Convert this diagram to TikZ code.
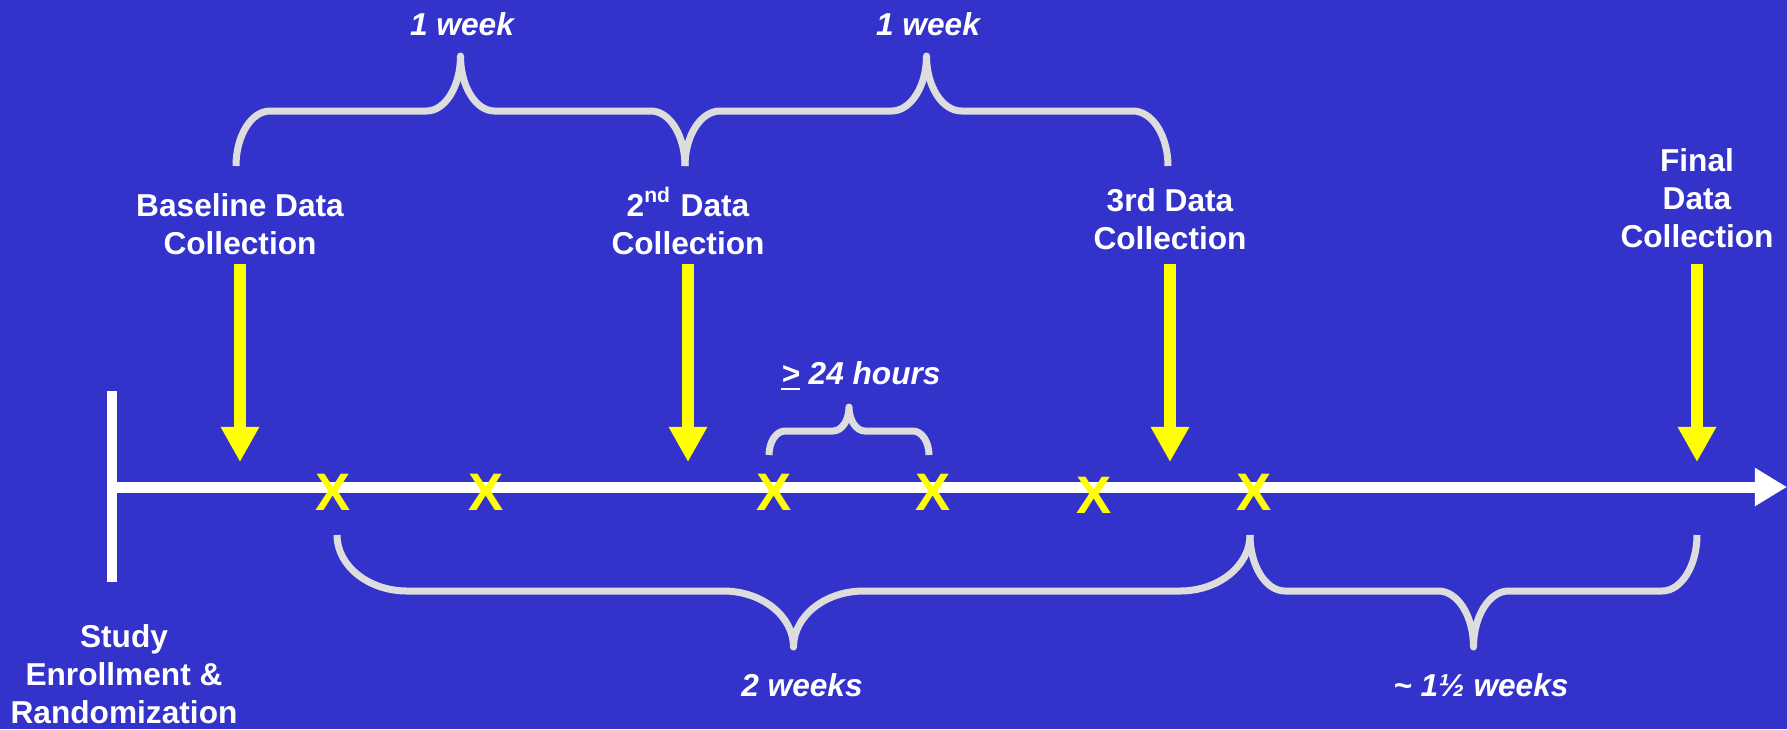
\documentclass[tikz,border=0pt]{standalone}
\usepackage{fontspec}
\setmainfont{Liberation Sans}
\usetikzlibrary{arrows.meta}
\definecolor{slideblue}{RGB}{51,51,204}
\definecolor{bracegray}{RGB}{221,221,221}
\definecolor{markyellow}{RGB}{255,255,0}

% curly span brace: x of both ends, y of the ends, rise, curve width
\newcommand{\spanbrace}[5]{%
  \pgfmathsetmacro{\bmid}{(#1+#2)/2}
  \draw[bracestroke] (#1,#3)
    .. controls (#1,{#3+0.55*(#4)}) and ({#1+0.45*#5},{#3+(#4)}) .. ({#1+#5},{#3+(#4)})
    -- ({\bmid-#5},{#3+(#4)})
    .. controls ({\bmid-0.45*#5},{#3+(#4)}) and (\bmid,{#3+1.45*(#4)}) .. (\bmid,{#3+2*(#4)})
    .. controls (\bmid,{#3+1.45*(#4)}) and ({\bmid+0.45*#5},{#3+(#4)}) .. ({\bmid+#5},{#3+(#4)})
    -- ({#2-#5},{#3+(#4)})
    .. controls ({#2-0.45*#5},{#3+(#4)}) and (#2,{#3+0.55*(#4)}) .. (#2,#3);
}

\begin{document}
\begin{tikzpicture}[
        x=0.01cm, y=-0.01cm,
        font=\fontsize{9}{10.8}\selectfont\bfseries,
        lbl/.style={text=white, align=center, inner sep=0pt, anchor=base},
        spanlbl/.style={text=white, font=\fontsize{9}{10.8}\selectfont\bfseries\itshape, inner sep=0pt, anchor=base},
        xmark/.style={text=markyellow, font=\fontsize{15}{18}\selectfont\bfseries, inner sep=0pt},
        dataarr/.style={markyellow, line width=0.12cm, -{Triangle[length=0.35cm, width=0.36cm]}},
        timeline/.style={white, line width=0.11cm, -{Triangle[length=0.32cm, width=0.36cm]}},
        bracestroke/.style={bracegray, line width=0.07cm, line join=round},
    ]
        \path[use as bounding box, fill=slideblue] (0,0) rectangle (1787,729);

        % --- Timeline with start bar ---
        \coordinate (start) at (112,487);
        \coordinate (stop) at (1787,487);
        \draw[white, line width=0.10cm] (start) ++(0,-96) -- ++(0,191);
        \draw[timeline] (start) -- (stop);

        % --- Sessions on the timeline ---
        \node[xmark] (s1) at (333,492) {X};
        \node[xmark] (s2) at (486,492) {X};
        \node[xmark] (s3) at (774,492) {X};
        \node[xmark] (s4) at (933,492) {X};
        \node[xmark] (s5) at (1094,495) {X};
        \node[xmark] (s6) at (1254,492) {X};

        % --- Data collection points (placed at last line) ---
        \node[lbl] (base) at (240,254) {Baseline Data\\Collection};
        \node[lbl] (second) at (688,254) {2\textsuperscript{nd} Data\\Collection};
        \node[lbl] (third) at (1170,249) {3rd Data\\Collection};
        \node[lbl] (final) at (1697,247) {Final\\Data\\Collection};
        \node[lbl] (study) at (124,723) {Study\\Enrollment \&\\Randomization};

        \coordinate (shafttop) at (0,264);
        \coordinate (tiprow) at (0,462);
        \draw[dataarr] (base |- shafttop) -- (base |- tiprow);
        \draw[dataarr] (second |- shafttop) -- (second |- tiprow);
        \draw[dataarr] (third |- shafttop) -- (third |- tiprow);
        \draw[dataarr] (final |- shafttop) -- (final |- tiprow);

        % --- Spans (braces above and below) ---
        \spanbrace{236}{685}{166}{-55}{34}
        \spanbrace{685}{1168}{166}{-55}{35}
        \spanbrace{769}{929}{455}{-24}{16}
        \spanbrace{337}{1250}{535}{56}{70}
        \spanbrace{1250}{1697}{535}{56}{35}

        \node[spanlbl] (wk1) at (462,35) {1 week};
        \node[spanlbl] (wk2) at (928,35) {1 week};
        \node[spanlbl] (gap) at (861,384) {\underline{>} 24 hours};
        \node[spanlbl] (twowk) at (802,696) {2 weeks};
        \node[spanlbl] (lastwk) at (1481,696) {\textasciitilde{} 1½ weeks};
\end{tikzpicture}
\end{document}
